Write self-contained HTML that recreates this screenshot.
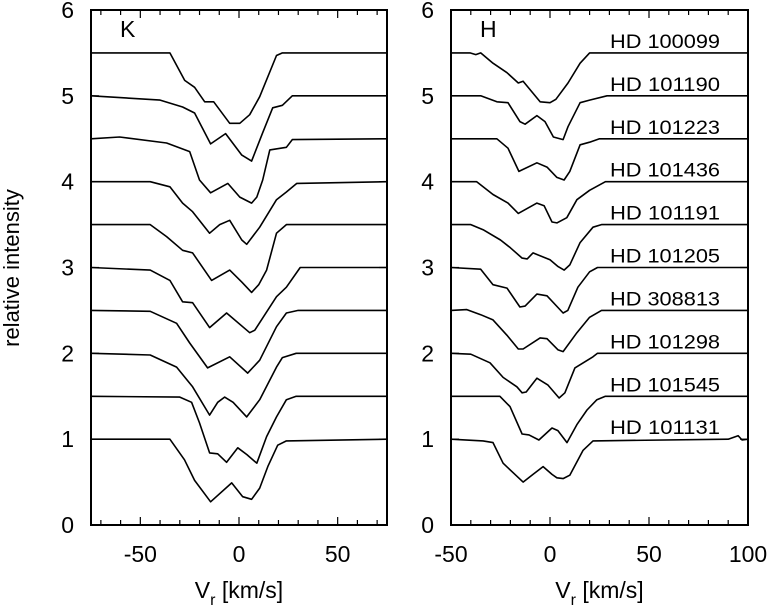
<!DOCTYPE html>
<html><head><meta charset="utf-8">
<style>
html,body{margin:0;padding:0;background:#fff;}
svg{display:block;font-family:"Liberation Sans",sans-serif;}
</style></head>
<body>
<svg id="chart" width="773" height="609" viewBox="0 0 773 609" xmlns="http://www.w3.org/2000/svg">
<text transform="translate(19,268) rotate(-90)" text-anchor="middle" font-size="22">relative intensity</text>
<g id="panelK"></g>
<g id="panelH"></g>
</svg>
<script>
// K-line profiles: velocities (km/s) and relative flux
const kV1=[-75,-35,-27.5,-22.5,-17.4,-12.8,-4.7,0.4,5.4,10.5,19,22,75];
const kF1=[5.5,5.5,5.18,5.10,4.93,4.93,4.68,4.68,4.78,4.99,5.47,5.5,5.5];
const kV2=[-75,-40,-28.6,-22.5,-14.4,-6.8,1.4,6.4,12,17.1,22,27,75];
const kF2=[5.0,4.95,4.87,4.80,4.44,4.56,4.31,4.24,4.57,4.86,4.89,5.0,5.0];
const kV3=[-75,-60.5,-36.7,-25,-20,-14.4,-5.7,0.4,6.4,9,12,15.6,24,27,75];
const kF3=[4.5,4.52,4.45,4.35,4.02,3.87,3.98,3.82,3.75,3.82,4.02,4.37,4.40,4.49,4.5];
const kV4=[-75,-45,-35,-28.6,-23.5,-14.9,-9.8,-4.7,1.4,3.9,10.5,19,24,29.3,75];
const kF4=[4.0,4.0,3.94,3.75,3.65,3.40,3.50,3.55,3.32,3.27,3.47,3.79,3.88,3.98,4.0];
const kV5=[-75,-45,-36.7,-28.6,-23.5,-13.9,-4.7,1.4,6.4,10,14,19,24,29,75];
const kF5=[3.5,3.5,3.36,3.20,3.17,2.85,2.97,2.83,2.71,2.80,2.97,3.40,3.50,3.5,3.5];
const kV6=[-75,-45,-35,-28.6,-23.5,-14.9,-6.3,5.4,8,19,24,31,75];
const kF6=[3.0,2.97,2.85,2.60,2.59,2.30,2.47,2.24,2.27,2.66,2.77,3.0,3.0];
const kV7=[-75,-45,-31.6,-25,-15.9,-4.7,4.4,10.5,19,24,30,75];
const kF7=[2.5,2.49,2.35,2.12,1.83,1.96,1.77,1.92,2.31,2.47,2.5,2.5];
const kV8=[-75,-45,-31.6,-23.5,-14.9,-10.8,-7.3,-3,3.9,10.5,19,22,29,75];
const kF8=[2.0,1.98,1.84,1.61,1.28,1.43,1.49,1.43,1.26,1.46,1.84,1.95,2.0,2.0];
const kV9=[-75,-30,-24,-20,-14.9,-10.8,-6.3,-0.6,4,9,14,19,24,29,75];
const kF9=[1.5,1.49,1.43,1.19,0.84,0.83,0.73,0.90,0.82,0.72,1.03,1.26,1.46,1.5,1.5];
const kV10=[-75,-35,-27.6,-22.5,-14.4,-3.7,1.9,6.4,10.5,14.6,19.6,24,75];
const kF10=[1.0,1.0,0.76,0.52,0.27,0.49,0.33,0.30,0.43,0.68,0.93,0.98,1.0];
// H-line profiles
const hV1=[-50,-40.4,-37.5,-35,-28.8,-21.7,-16,-13.6,-5,0,3,9.1,15.2,20,100];
const hF1=[5.5,5.5,5.48,5.5,5.38,5.27,5.15,5.17,4.93,4.92,4.96,5.15,5.38,5.5,5.5];
const hV2=[-50,-35,-26.8,-21.2,-15.2,-12.6,-6.6,-2.5,1.7,6.6,9.1,15.2,20,28.8,100];
const hF2=[5.0,5.0,4.93,4.92,4.70,4.67,4.77,4.70,4.52,4.49,4.64,4.92,4.95,5.0,5.0];
const hV3=[-50,-26.8,-21.2,-15.7,-6.6,-1.5,3.5,7.1,10,15.2,20,25,100];
const hF3=[4.5,4.50,4.39,4.12,4.22,4.17,4.05,4.02,4.12,4.43,4.46,4.5,4.5];
const hV4=[-50,-37,-28.8,-21.2,-16,-6.6,-3,1,3.5,8.5,13.6,20,28,100];
const hF4=[4.0,4.0,3.85,3.75,3.63,3.75,3.72,3.53,3.52,3.58,3.79,3.90,4.0,4.0];
const hV5=[-50,-40,-33.8,-25,-20,-14.1,-11.5,-8.6,0,4.1,7.1,10,15.2,21.7,26,100];
const hF5=[3.5,3.5,3.44,3.32,3.23,3.11,3.10,3.17,3.09,3.01,2.97,3.03,3.29,3.47,3.5,3.5];
const hV6=[-50,-35,-28.8,-21.7,-15.2,-12.6,-6.6,-1.5,6.6,9,14.1,20,24,100];
const hF6=[3.0,2.98,2.80,2.76,2.54,2.55,2.69,2.67,2.47,2.50,2.77,2.95,3.0,3.0];
const hV7=[-50,-42,-35,-28.8,-21.7,-16,-13.6,-5,-1.5,4.1,6.6,13.6,20,26,100];
const hF7=[2.5,2.51,2.45,2.39,2.21,2.05,2.05,2.18,2.17,2.04,2.02,2.24,2.42,2.5,2.5];
const hV8=[-50,-40,-30.3,-23.7,-16.7,-14.1,-12,-6.6,-1,4.6,7.5,12.6,21.7,24,100];
const hF8=[2.0,1.99,1.89,1.72,1.61,1.54,1.55,1.71,1.63,1.48,1.54,1.83,1.96,2.0,2.0];
const hV9=[-50,-25.3,-20.2,-14.1,-10.6,-5.6,1,4,8.6,13.6,18.7,23.7,28,100];
const hF9=[1.5,1.5,1.38,1.06,1.05,0.99,1.13,1.10,0.96,1.17,1.34,1.46,1.5,1.5];
const hV10=[-50,-33.8,-28.8,-23.7,-18.7,-13.6,-8.6,-3.5,1,3.5,6.6,10,16.7,21.7,90,95,97,100];
const hF10=[1.0,0.98,0.96,0.72,0.61,0.50,0.59,0.68,0.59,0.55,0.54,0.58,0.87,0.98,1.0,1.04,0.99,1.0];
const hLabels=["HD 100099","HD 101190","HD 101223","HD 101436","HD 101191","HD 101205","HD 308813","HD 101298","HD 101545","HD 101131"];
const hLevels=[5.5,5.0,4.5,4.0,3.5,3.0,2.5,2.0,1.5,1.0];
const yTicks=[0,1,2,3,4,5,6];
const kXTicks=[-50,0,50];
const hXTicks=[-50,0,50,100];

const kSeries=[[kV1,kF1],[kV2,kF2],[kV3,kF3],[kV4,kF4],[kV5,kF5],[kV6,kF6],[kV7,kF7],[kV8,kF8],[kV9,kF9],[kV10,kF10]];
const hSeries=[[hV1,hF1],[hV2,hF2],[hV3,hF3],[hV4,hF4],[hV5,hF5],[hV6,hF6],[hV7,hF7],[hV8,hF8],[hV9,hF9],[hV10,hF10]];
const NS="http://www.w3.org/2000/svg";
function mk(tag,attrs,parent){const e=document.createElementNS(NS,tag);for(const k in attrs)e.setAttribute(k,attrs[k]);parent.appendChild(e);return e;}
const Y0=525,Y1=10;
function yS(v){return Y0+(Y1-Y0)*v/6;}

function drawPanel(g,x0,x1,vmin,vmax,series,xticks,panelLetter,labelsOn){
  const xS=v=>x0+(x1-x0)*(v-vmin)/(vmax-vmin);
  const frame=mk('rect',{x:x0,y:Y1,width:x1-x0,height:Y0-Y1,fill:'none',stroke:'#000','stroke-width':2},g);
  
  
  for(let v=Math.ceil(vmin/10)*10;v<=vmax;v+=10){
    const major=(v%50===0);const L=major?8:5;
    const t1=mk('line',{x1:xS(v),x2:xS(v),y1:Y0,y2:Y0-L,stroke:'#000','stroke-width':1.2},g);
    
    
    const t2=mk('line',{x1:xS(v),x2:xS(v),y1:Y1,y2:Y1+L,stroke:'#000','stroke-width':1.2},g);
    
    
  }
  xticks.forEach(v=>{
    const t=mk('text',{x:xS(v),y:562,'text-anchor':'middle','font-size':23},g);
    t.textContent=String(v);
    
    
  });
  yTicks.forEach(v=>{
    const a=mk('line',{x1:x0,x2:x0+8,y1:yS(v),y2:yS(v),stroke:'#000','stroke-width':1.2},g);
    
    
    const b=mk('line',{x1:x1,x2:x1-8,y1:yS(v),y2:yS(v),stroke:'#000','stroke-width':1.2},g);
    
    
    const t=mk('text',{x:x0-17,y:yS(v)+8,'text-anchor':'end','font-size':23},g);
    t.textContent=String(v);
    
    
  });
  const title=mk('text',{x:(x0+x1)/2,y:598,'text-anchor':'middle','font-size':23},g);
  
  
  title.innerHTML='V<tspan font-size="16" dy="7">r</tspan><tspan dy="-7"> [km/s]</tspan>';
  const pl=mk('text',{x:x0+29,y:37,'font-size':23},g);
  pl.textContent=panelLetter;
  
  
  series.forEach((s,i)=>{
    const pts=s[0].map((v,j)=>xS(v).toFixed(1)+','+yS(s[1][j]).toFixed(1)).join(' ');
    const p=mk('polyline',{points:pts,fill:'none',stroke:'#000','stroke-width':1.6,'stroke-linejoin':'round'},g);
    
    
    if(labelsOn){
      const t=mk('text',{x:610,y:yS(hLevels[i])-5,'font-size':19,textLength:110,lengthAdjust:'spacingAndGlyphs'},g);
      t.textContent=hLabels[i];
      
      
    }
  });
}
drawPanel(document.getElementById('panelK'),91,387,-75,75,kSeries,kXTicks,'K',false);
drawPanel(document.getElementById('panelH'),451,748,-50,100,hSeries,hXTicks,'H',true);
</script>
</body></html>
